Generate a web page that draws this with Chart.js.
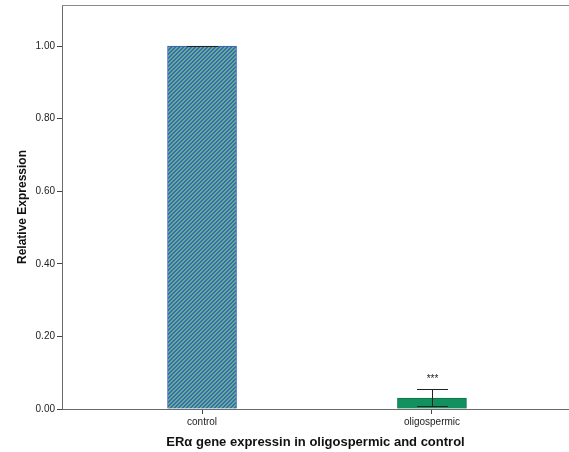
<!DOCTYPE html>
<html>
<head>
<meta charset="utf-8">
<script src="https://cdn.jsdelivr.net/npm/chart.js@4"></script>
<style>
  html, body { margin: 0; padding: 0; background: #fff; }
  #wrap { width: 569px; height: 452px; }
</style>
</head>
<body>
<div id="wrap"><canvas id="c" width="569" height="452"></canvas></div>
<script>
// chart data
const groups = ['control', 'oligospermic'];
const groupPos = [1, 2];
const meanExpr = [1.0, 0.03];
const errLow = [1.0, 0.008];
const errHigh = [1.0, 0.055];
const sigMarks = ['', '***'];
const yTicks = [0, 0.2, 0.4, 0.6, 0.8, 1.0];

// striped fill for the control bar
function makeStripes() {
  const p = document.createElement('canvas');
  p.width = 4; p.height = 4;
  const g = p.getContext('2d');
  g.fillStyle = '#4165b8';
  g.fillRect(0, 0, 4, 4);
  g.fillStyle = '#5cb38a';
  for (let i = 0; i < 4; i++) {
    g.fillRect((3 - i + 4) % 4, i, 1, 1);
    g.fillRect((4 - i + 4) % 4, i, 1, 1);
  }
  return document.getElementById('c').getContext('2d').createPattern(p, 'repeat');
}

const font = 'Arial, "Liberation Sans", sans-serif';

// error bars, frame line, stars
const extras = {
  id: 'extras',
  afterDatasetsDraw(chart) {
    const ctx = chart.ctx;
    const xs = chart.scales.x, ys = chart.scales.y;
    const ca = chart.chartArea;
    ctx.save();
    // top frame
    ctx.strokeStyle = '#8a8a8a';
    ctx.lineWidth = 1;
    ctx.beginPath();
    ctx.moveTo(ca.left, ca.top + 0.5);
    ctx.lineTo(ca.right, ca.top + 0.5);
    ctx.stroke();

    ctx.strokeStyle = '#222';
    groupPos.forEach((v, i) => {
      const x = Math.round(xs.getPixelForValue(v)) + 0.5;
      const yl = Math.round(ys.getPixelForValue(errLow[i])) + 0.5;
      const yh = Math.round(ys.getPixelForValue(errHigh[i])) + 0.5;
      const half = 15.5;
      ctx.beginPath();
      ctx.moveTo(x - half, yh); ctx.lineTo(x + half, yh);
      ctx.moveTo(x - half, yl); ctx.lineTo(x + half, yl);
      ctx.moveTo(x, yh); ctx.lineTo(x, yl);
      ctx.stroke();
      if (sigMarks[i]) {
        ctx.fillStyle = '#222';
        ctx.font = '10px ' + font;
        ctx.textAlign = 'center';
        ctx.textBaseline = 'middle';
        ctx.fillText(sigMarks[i], x, yh - 10);
      }
    });
    ctx.restore();
  }
};

new Chart(document.getElementById('c'), {
  type: 'bar',
  data: {
    datasets: [{
      data: groupPos.map((p, i) => ({ x: p, y: meanExpr[i] })),
      backgroundColor: [makeStripes(), '#12915e'],
      borderColor: ['#3d5cb3', '#0c6e45'],
      borderWidth: 1,
      borderSkipped: 'bottom',
      barThickness: 69
    }]
  },
  options: {
    responsive: false,
    animation: false,
    layout: { padding: { top: 5, right: 0, bottom: 0, left: 0 } },
    plugins: { legend: { display: false }, tooltip: { enabled: false } },
    scales: {
      x: {
        type: 'linear',
        offset: false,
        min: 0.391,
        max: 2.596,
        afterBuildTicks: s => { s.ticks = groupPos.map(v => ({ value: v })); },
        afterFit: s => { s.height = 43; },
        grid: { drawOnChartArea: false, offset: false, tickLength: 5, color: '#444' },
        border: { color: '#6a6a6a', width: 1 },
        ticks: {
          padding: 2,
          color: '#222',
          font: { family: font, size: 10 },
          callback: v => groups[groupPos.indexOf(v)] || ''
        },
        title: {
          display: true,
          text: 'ERα gene expressin in oligospermic and control',
          color: '#111',
          font: { family: font, size: 13, weight: 'bold' },
          padding: { top: 0, bottom: 2 }
        }
      },
      y: {
        min: 0,
        max: 1.113,
        afterBuildTicks: s => { s.ticks = yTicks.map(v => ({ value: v })); },
        afterFit: s => { s.width = 62; s.paddingTop = 0; },
        grid: { drawOnChartArea: false, tickLength: 5, color: '#444' },
        border: { color: '#6a6a6a', width: 1 },
        ticks: {
          padding: 2,
          color: '#222',
          font: { family: font, size: 10 },
          callback: v => v.toFixed(2)
        },
        title: {
          display: true,
          text: 'Relative Expression',
          color: '#111',
          font: { family: font, size: 12, weight: 'bold' },
          padding: { top: 15, bottom: 0 }
        }
      }
    }
  },
  plugins: [extras]
});
</script>
</body>
</html>
